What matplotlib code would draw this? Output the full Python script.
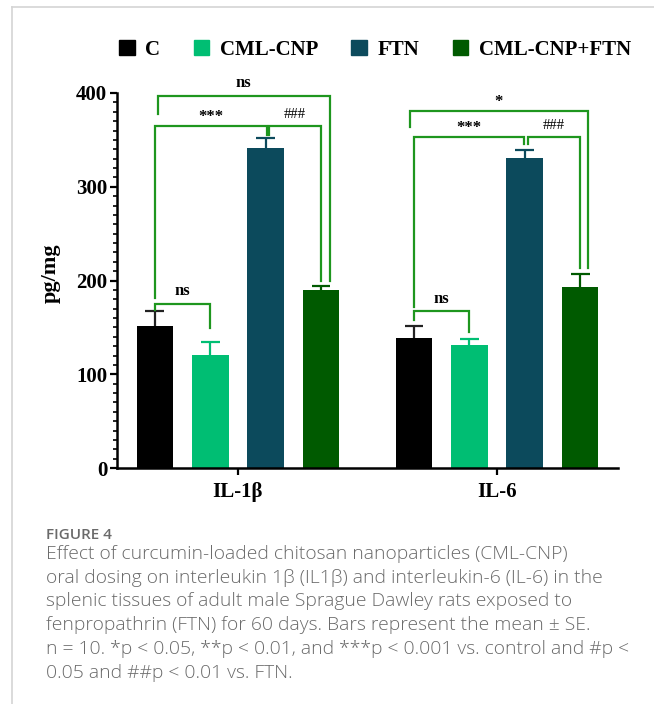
import numpy as np
import matplotlib
matplotlib.use('Agg')
import matplotlib.pyplot as plt
from matplotlib.lines import Line2D
from matplotlib.patches import Patch

# cytokine levels, pg/mg (mean and SE)
CYTOKINES = ['IL-1β', 'IL-6']
GROUPS    = ['C', 'CML-CNP', 'FTN', 'CML-CNP+FTN']
COLORS    = ['#000000', '#00BE73', '#0C4A5C', '#005A00']
ERR_COLS  = ['#222222', '#00BE73', '#0C4A5C', '#005A00']
MEANS = {
    'C':           [152, 139],
    'CML-CNP':     [121, 131],
    'FTN':         [341, 331],
    'CML-CNP+FTN': [190, 193],
}
SES = {
    'C':           [15, 12.5],
    'CML-CNP':     [13, 7],
    'FTN':         [11, 8],
    'CML-CNP+FTN': [4, 14],
}

# significance brackets per cytokine:
# (left bar, right bar, bracket y, left leg end, right leg end, label, left dx, right dx)
BRACKETS = [
    [(0, 1, 175, 169, 149, 'ns', 0, 0),
     (0, 2, 365, 181, 355, '***', 0, 0.004),
     (2, 3, 365, 355, 199, '###', 0.014, 0),
     (0, 3, 397, 378, 199, 'ns', 0.012, 0.033)],
    [(0, 1, 167, 158, 145, 'ns', 0, 0),
     (0, 2, 353, 172, 346, '***', 0, -0.002),
     (2, 3, 353, 346, 213, '###', 0.014, 0),
     (0, 3, 381, 364, 213, '*', -0.014, 0.029)],
]
BRACKET_COLOR = '#1E961E'

CAPTION_TITLE = 'FIGURE 4'
CAPTION_LINES = [
    'Effect of curcumin-loaded chitosan nanoparticles (CML-CNP)',
    'oral dosing on interleukin 1β (IL1β) and interleukin-6 (IL-6) in the',
    'splenic tissues of adult male Sprague Dawley rats exposed to',
    'fenpropathrin (FTN) for 60 days. Bars represent the mean ± SE.',
    'n = 10. *p < 0.05, **p < 0.01, and ***p < 0.001 vs. control and #p <',
    '0.05 and ##p < 0.01 vs. FTN.',
]

SERIF = 'Liberation Serif'

fig = plt.figure(figsize=(6.54, 7.04), dpi=100)
ax = fig.add_axes([117/654, 1 - 468/704, 501/654, 375/704])

x = np.arange(len(CYTOKINES))
pitch = 0.214
width = 0.141
cap = 0.036

bar_x = {}
for i, (g, c, ec) in enumerate(zip(GROUPS, COLORS, ERR_COLS)):
    pos = x + (i - 1.5) * pitch
    bar_x[i] = pos
    m = np.array(MEANS[g])
    top = m + np.array(SES[g])
    ax.bar(pos, m, width, color=c, label=g, zorder=2)
    # upper error whisker only
    ax.vlines(pos, m, top, color=ec, lw=1.6, zorder=3)
    ax.hlines(top, pos - cap, pos + cap, color=ec, lw=1.6, zorder=3)

# brackets and significance marks
for k, group in enumerate(BRACKETS):
    for (a, b, y, yl, yr, lab, dl, dr) in group:
        x1 = bar_x[a][k] + dl
        x2 = bar_x[b][k] + dr
        ax.plot([x1, x1, x2, x2], [yl, y, y, yr], color=BRACKET_COLOR,
                lw=1.6, clip_on=False, zorder=4, solid_joinstyle='miter')
        if lab == 'ns':
            ax.text((x1 + x2) / 2, y + 5, lab, ha='center', va='bottom',
                    fontsize=12, fontweight='bold', family=SERIF, clip_on=False)
        elif lab == '###':
            ax.text((x1 + x2) / 2, y + 5, lab, ha='center', va='bottom',
                    fontsize=10.5, family=SERIF, clip_on=False)
        else:
            ax.text((x1 + x2) / 2, y + 1, lab, ha='center', va='bottom',
                    fontsize=12, fontweight='bold', family=SERIF, clip_on=False)

ax.set_xlim(-0.467, 1.467)
ax.set_ylim(0, 400)
ax.set_yticks([0, 100, 200, 300, 400])
ax.set_yticks(np.arange(0, 401, 10), minor=True)
ax.set_xticks(x)
ax.set_xticklabels(CYTOKINES, fontsize=15, fontweight='bold', family=SERIF)
for lbl in ax.get_yticklabels():
    lbl.set_fontsize(15)
    lbl.set_fontweight('bold')
    lbl.set_family(SERIF)

ax.tick_params(axis='y', which='major', length=5, width=1.6, pad=2)
ax.tick_params(axis='y', which='minor', length=3, width=1.2)
ax.tick_params(axis='x', length=5, width=1.6, pad=5)
for s in ['top', 'right']:
    ax.spines[s].set_visible(False)
for s in ['left', 'bottom']:
    ax.spines[s].set_linewidth(1.8)

ax.set_ylabel('pg/mg', fontsize=16, fontweight='bold', family=SERIF)
ax.yaxis.set_label_coords(-0.112, 0.52)

handles = [Patch(facecolor=c, edgecolor=c) for c in COLORS]
leg = fig.legend(handles, GROUPS, loc='center', bbox_to_anchor=(375/654, 1 - 50/704),
                 ncol=4, frameon=False, handlelength=0.75, handleheight=0.75,
                 handletextpad=0.5, columnspacing=1.6,
                 prop={'family': SERIF, 'weight': 'bold', 'size': 15})

# caption
fig.text(46/654, 1 - 535/704, CAPTION_TITLE, ha='left', va='center',
         fontsize=11, color='#6a6a6a', family='Open Sans', fontweight='semibold')
for n, line in enumerate(CAPTION_LINES):
    fig.text(46/654, 1 - (554 + n * 23.7)/704, line, ha='left', va='center',
             fontsize=13.9, color='#6a6a6a', family='Open Sans', fontweight='light')

# page frame
fig.add_artist(Line2D([12/654, 1], [1 - 7/704] * 2, color='#d4d4d4', lw=1.2))
fig.add_artist(Line2D([12/654] * 2, [0, 1 - 7/704], color='#d4d4d4', lw=1.2))

fig.savefig('out.png', dpi=100)
